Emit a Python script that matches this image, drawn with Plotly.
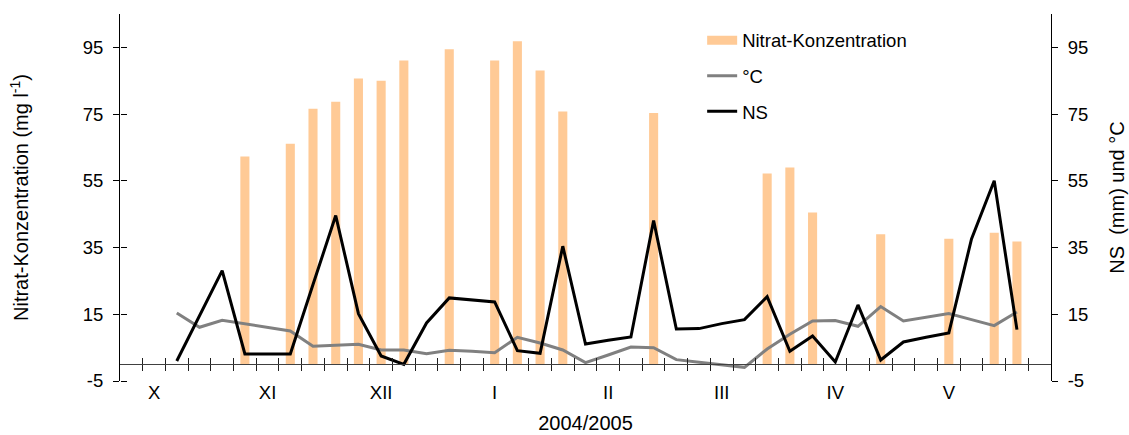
import plotly.graph_objects as go

# ---- data (category index 0..40, approx. weekly steps Oct 2004 - May 2005) ----
categories = list(range(41))
month_positions = [1, 6, 11, 16, 21, 26, 31, 36]
month_labels = ["X", "XI", "XII", "I", "II", "III", "IV", "V"]

N = None
nitrat = [N, N, N, N, N, 62.3, N, 66.1, 76.6, 78.7,
          85.7, 85.0, 91.1, N, 94.4, N, 91.1, 96.8, 88.1, 75.8,
          N, N, N, 75.3, N, N, N, N, 57.2, 59.0,
          45.5, N, N, 39.0, N, N, 37.6, N, 39.4, 36.8,
          N]

temp_c = [N, N, 15.4, 11.1, 13.2, 12.1, 11.0, 10.0, 5.4, 5.8,
          6.0, 4.3, 4.3, 3.2, 4.2, 3.9, 3.5, 8.1, 6.4, 4.3,
          0.5, 2.8, 5.2, 5.0, 1.4, 0.6, -0.2, -0.9, 4.6, 9.0,
          13.0, 13.1, 11.4, 17.3, 13.0, 14.1, 15.2, 13.4, 11.6, 15.7,
          N]

ns_mm = [N, N, 1.0, 14.6, 28.1, 3.1, 3.1, 3.1, 23.9, 44.6,
         15.2, 2.5, 0.0, 12.4, 19.9, 19.3, 18.7, 4.1, 3.3, 35.4,
         6.1, 7.2, 8.2, 43.1, 10.6, 10.7, 12.2, 13.4, 20.3, 3.9,
         8.5, 0.7, 17.8, 1.3, 6.7, 8.1, 9.4, 37.6, 55.0, 10.4,
         N]

y_ticks = [-5, 15, 35, 55, 75, 95]
y_tick_labels = ["-5", "15", "35", "55", "75", "95"]
y_range = [-5, 105]
x_range = [-0.5, 40.5]
boundaries = [i + 0.5 for i in range(40)]

ORANGE = "#FFCA96"
GRAY = "#808080"
FONT = "Liberation Sans, Arial, sans-serif"

zero_pos = (0 - y_range[0]) / (y_range[1] - y_range[0])

fig = go.Figure()

fig.add_trace(go.Bar(x=categories, y=nitrat, width=0.4, marker=dict(color=ORANGE, line=dict(width=0)),
                     name="Nitrat-Konzentration", showlegend=False, xaxis="x", yaxis="y"))
# legend entry for the bars (wide flat swatch like the original)
fig.add_trace(go.Scatter(x=[None], y=[None], mode="lines", line=dict(color=ORANGE, width=9),
                         name="Nitrat-Konzentration", legendgroup="a", xaxis="x", yaxis="y"))
fig.add_trace(go.Scatter(x=categories, y=temp_c, mode="lines", line=dict(color=GRAY, width=3),
                         name="°C", legendgroup="b", xaxis="x", yaxis="y2"))
fig.add_trace(go.Scatter(x=categories, y=ns_mm, mode="lines", line=dict(color="black", width=3),
                         name="NS", legendgroup="c", xaxis="x", yaxis="y2"))
# empty helper traces so the tick-only overlay axes are drawn
for xa, ya in [("x2", "y"), ("x3", "y"), ("x", "y3")]:
    fig.add_trace(go.Scatter(x=[None], y=[None], xaxis=xa, yaxis=ya, showlegend=False, hoverinfo="skip"))

fig.update_layout(
    width=1129, height=435,
    margin=dict(l=120, r=78, t=14, b=54),
    paper_bgcolor="white", plot_bgcolor="white",
    font=dict(family=FONT, size=18.5, color="black"),
    showlegend=True,
    legend=dict(x=0.6253, y=0.979, xanchor="left", yanchor="top", bgcolor="rgba(0,0,0,0)",
                traceorder="grouped", tracegroupgap=8.5, font=dict(size=18.5)),
    xaxis=dict(range=x_range, anchor="free", position=zero_pos, showline=True, linecolor="#404040",
               linewidth=1, tickmode="array", tickvals=month_positions, ticktext=month_labels,
               ticks="", ticklabelstandoff=11, showgrid=False, zeroline=False, automargin=False,
               title=dict(text="2004/2005", standoff=14, font=dict(size=20))),
    xaxis2=dict(range=x_range, overlaying="x", anchor="free", position=zero_pos, side="bottom",
                showline=False, tickmode="array", tickvals=boundaries, ticks="outside", ticklen=6,
                tickcolor="#202020", showticklabels=False, showgrid=False, zeroline=False),
    xaxis3=dict(range=x_range, overlaying="x", anchor="free", position=zero_pos, side="top",
                showline=False, tickmode="array", tickvals=boundaries, ticks="outside", ticklen=6,
                tickcolor="#202020", showticklabels=False, showgrid=False, zeroline=False),
    yaxis=dict(range=y_range, tickmode="array", tickvals=y_ticks, ticktext=y_tick_labels,
               ticks="outside", ticklen=6,
               tickcolor="black", showline=True, linecolor="black", linewidth=1, showgrid=False,
               zeroline=False, automargin=False, ticklabelstandoff=6,
               title=dict(text="Nitrat-Konzentration (mg l<sup>-1</sup>)", standoff=48, font=dict(size=20))),
    yaxis2=dict(range=y_range, overlaying="y", side="right", anchor="x", tickmode="array",
                tickvals=y_ticks, ticktext=y_tick_labels, ticks="outside", ticklen=6, tickcolor="black",
                showline=True, linecolor="black", linewidth=1, showgrid=False, zeroline=False,
                automargin=False, ticklabelstandoff=6,
                title=dict(text="NS  (mm) und °C", standoff=22, font=dict(size=20))),
    yaxis3=dict(range=y_range, overlaying="y", side="right", anchor="free", position=0,
                tickmode="array", tickvals=y_ticks, ticks="outside", ticklen=6, tickcolor="black",
                showline=False, showticklabels=False, showgrid=False, zeroline=False),
)

fig.write_html("out.html")
